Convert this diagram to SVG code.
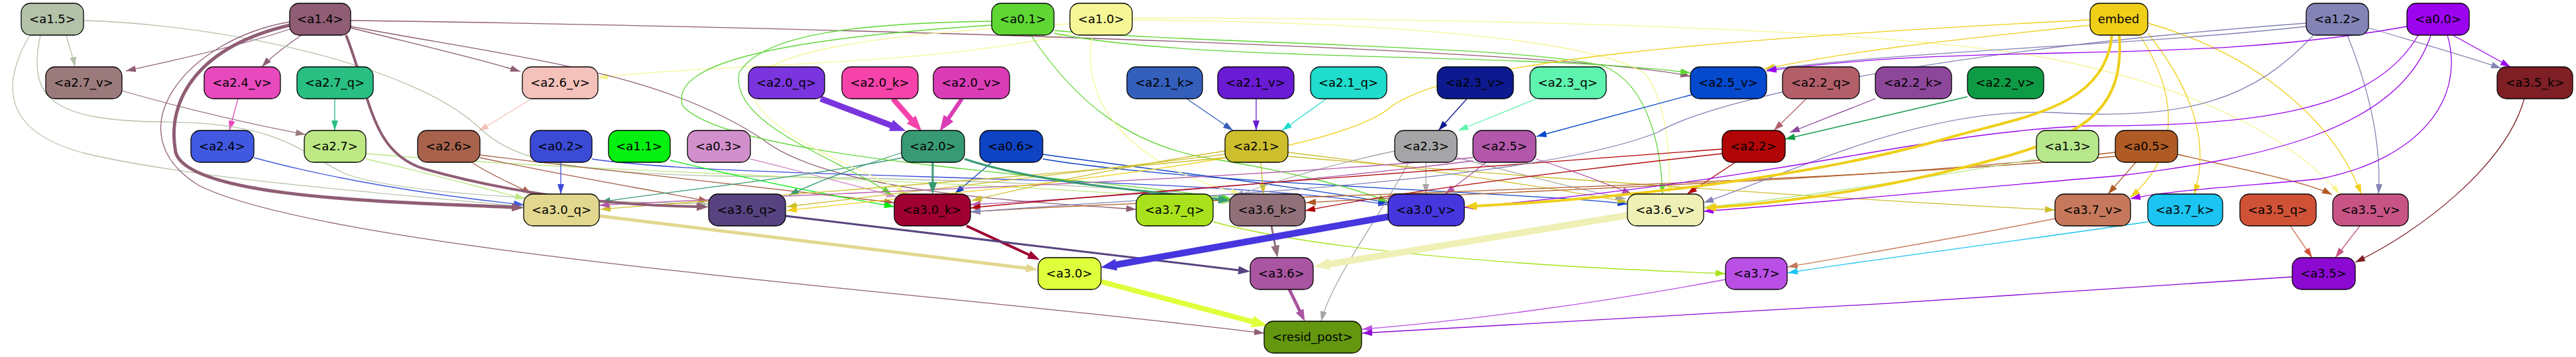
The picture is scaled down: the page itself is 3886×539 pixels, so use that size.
<svg xmlns="http://www.w3.org/2000/svg" width="3886" height="539" viewBox="0 0 3886 539">
<style>
.node rect{stroke:#000;stroke-width:1.3}
.node text{font-family:"DejaVu Sans","Liberation Sans",sans-serif;font-size:18px;text-anchor:middle;fill:#000}
.e{fill:none;stroke-width:1.3}
.m{fill:none}
</style>
<defs>
<marker id="a-a15" viewBox="0 0 15 10" refX="15" refY="5" markerWidth="15" markerHeight="10" markerUnits="userSpaceOnUse" orient="auto"><path d="M0,0L15,5L0,10z" fill="#b3c2a8"/></marker>
<marker id="a-a14" viewBox="0 0 15 10" refX="15" refY="5" markerWidth="15" markerHeight="10" markerUnits="userSpaceOnUse" orient="auto"><path d="M0,0L15,5L0,10z" fill="#8f5d74"/></marker>
<marker id="a-a10" viewBox="0 0 15 10" refX="15" refY="5" markerWidth="15" markerHeight="10" markerUnits="userSpaceOnUse" orient="auto"><path d="M0,0L15,5L0,10z" fill="#f6f696"/></marker>
<marker id="a-a01" viewBox="0 0 15 10" refX="15" refY="5" markerWidth="15" markerHeight="10" markerUnits="userSpaceOnUse" orient="auto"><path d="M0,0L15,5L0,10z" fill="#5fd634"/></marker>
<marker id="a-a00" viewBox="0 0 15 10" refX="15" refY="5" markerWidth="15" markerHeight="10" markerUnits="userSpaceOnUse" orient="auto"><path d="M0,0L15,5L0,10z" fill="#9c04ef"/></marker>
<marker id="a-a12" viewBox="0 0 15 10" refX="15" refY="5" markerWidth="15" markerHeight="10" markerUnits="userSpaceOnUse" orient="auto"><path d="M0,0L15,5L0,10z" fill="#8383b6"/></marker>
<marker id="a-emb" viewBox="0 0 15 10" refX="15" refY="5" markerWidth="15" markerHeight="10" markerUnits="userSpaceOnUse" orient="auto"><path d="M0,0L15,5L0,10z" fill="#efcf18"/></marker>
<marker id="a-a27v" viewBox="0 0 15 10" refX="15" refY="5" markerWidth="15" markerHeight="10" markerUnits="userSpaceOnUse" orient="auto"><path d="M0,0L15,5L0,10z" fill="#9b7a7c"/></marker>
<marker id="a-a24v" viewBox="0 0 15 10" refX="15" refY="5" markerWidth="15" markerHeight="10" markerUnits="userSpaceOnUse" orient="auto"><path d="M0,0L15,5L0,10z" fill="#e849bd"/></marker>
<marker id="a-a27q" viewBox="0 0 15 10" refX="15" refY="5" markerWidth="15" markerHeight="10" markerUnits="userSpaceOnUse" orient="auto"><path d="M0,0L15,5L0,10z" fill="#29bf82"/></marker>
<marker id="a-a26v" viewBox="0 0 15 10" refX="15" refY="5" markerWidth="15" markerHeight="10" markerUnits="userSpaceOnUse" orient="auto"><path d="M0,0L15,5L0,10z" fill="#f4c2ba"/></marker>
<marker id="a-a21k" viewBox="0 0 15 10" refX="15" refY="5" markerWidth="15" markerHeight="10" markerUnits="userSpaceOnUse" orient="auto"><path d="M0,0L15,5L0,10z" fill="#345fbb"/></marker>
<marker id="a-a21v" viewBox="0 0 15 10" refX="15" refY="5" markerWidth="15" markerHeight="10" markerUnits="userSpaceOnUse" orient="auto"><path d="M0,0L15,5L0,10z" fill="#6a1bd4"/></marker>
<marker id="a-a21q" viewBox="0 0 15 10" refX="15" refY="5" markerWidth="15" markerHeight="10" markerUnits="userSpaceOnUse" orient="auto"><path d="M0,0L15,5L0,10z" fill="#1fdccc"/></marker>
<marker id="a-a23v" viewBox="0 0 15 10" refX="15" refY="5" markerWidth="15" markerHeight="10" markerUnits="userSpaceOnUse" orient="auto"><path d="M0,0L15,5L0,10z" fill="#0d1a8f"/></marker>
<marker id="a-a23q" viewBox="0 0 15 10" refX="15" refY="5" markerWidth="15" markerHeight="10" markerUnits="userSpaceOnUse" orient="auto"><path d="M0,0L15,5L0,10z" fill="#5ef3ae"/></marker>
<marker id="a-a25v" viewBox="0 0 15 10" refX="15" refY="5" markerWidth="15" markerHeight="10" markerUnits="userSpaceOnUse" orient="auto"><path d="M0,0L15,5L0,10z" fill="#0549cc"/></marker>
<marker id="a-a22q" viewBox="0 0 15 10" refX="15" refY="5" markerWidth="15" markerHeight="10" markerUnits="userSpaceOnUse" orient="auto"><path d="M0,0L15,5L0,10z" fill="#b35f6a"/></marker>
<marker id="a-a22k" viewBox="0 0 15 10" refX="15" refY="5" markerWidth="15" markerHeight="10" markerUnits="userSpaceOnUse" orient="auto"><path d="M0,0L15,5L0,10z" fill="#8d479a"/></marker>
<marker id="a-a22v" viewBox="0 0 15 10" refX="15" refY="5" markerWidth="15" markerHeight="10" markerUnits="userSpaceOnUse" orient="auto"><path d="M0,0L15,5L0,10z" fill="#0f9b45"/></marker>
<marker id="a-a35k" viewBox="0 0 15 10" refX="15" refY="5" markerWidth="15" markerHeight="10" markerUnits="userSpaceOnUse" orient="auto"><path d="M0,0L15,5L0,10z" fill="#7e1f25"/></marker>
<marker id="a-a24" viewBox="0 0 15 10" refX="15" refY="5" markerWidth="15" markerHeight="10" markerUnits="userSpaceOnUse" orient="auto"><path d="M0,0L15,5L0,10z" fill="#4159e0"/></marker>
<marker id="a-a27" viewBox="0 0 15 10" refX="15" refY="5" markerWidth="15" markerHeight="10" markerUnits="userSpaceOnUse" orient="auto"><path d="M0,0L15,5L0,10z" fill="#bde884"/></marker>
<marker id="a-a26" viewBox="0 0 15 10" refX="15" refY="5" markerWidth="15" markerHeight="10" markerUnits="userSpaceOnUse" orient="auto"><path d="M0,0L15,5L0,10z" fill="#a8624c"/></marker>
<marker id="a-a02" viewBox="0 0 15 10" refX="15" refY="5" markerWidth="15" markerHeight="10" markerUnits="userSpaceOnUse" orient="auto"><path d="M0,0L15,5L0,10z" fill="#3b4bd6"/></marker>
<marker id="a-a11" viewBox="0 0 15 10" refX="15" refY="5" markerWidth="15" markerHeight="10" markerUnits="userSpaceOnUse" orient="auto"><path d="M0,0L15,5L0,10z" fill="#03f010"/></marker>
<marker id="a-a03" viewBox="0 0 15 10" refX="15" refY="5" markerWidth="15" markerHeight="10" markerUnits="userSpaceOnUse" orient="auto"><path d="M0,0L15,5L0,10z" fill="#d190cb"/></marker>
<marker id="a-a20" viewBox="0 0 15 10" refX="15" refY="5" markerWidth="15" markerHeight="10" markerUnits="userSpaceOnUse" orient="auto"><path d="M0,0L15,5L0,10z" fill="#389a74"/></marker>
<marker id="a-a06" viewBox="0 0 15 10" refX="15" refY="5" markerWidth="15" markerHeight="10" markerUnits="userSpaceOnUse" orient="auto"><path d="M0,0L15,5L0,10z" fill="#0e43c3"/></marker>
<marker id="a-a21" viewBox="0 0 15 10" refX="15" refY="5" markerWidth="15" markerHeight="10" markerUnits="userSpaceOnUse" orient="auto"><path d="M0,0L15,5L0,10z" fill="#cdbe2e"/></marker>
<marker id="a-a23" viewBox="0 0 15 10" refX="15" refY="5" markerWidth="15" markerHeight="10" markerUnits="userSpaceOnUse" orient="auto"><path d="M0,0L15,5L0,10z" fill="#a5a5a7"/></marker>
<marker id="a-a25" viewBox="0 0 15 10" refX="15" refY="5" markerWidth="15" markerHeight="10" markerUnits="userSpaceOnUse" orient="auto"><path d="M0,0L15,5L0,10z" fill="#b257aa"/></marker>
<marker id="a-a22" viewBox="0 0 15 10" refX="15" refY="5" markerWidth="15" markerHeight="10" markerUnits="userSpaceOnUse" orient="auto"><path d="M0,0L15,5L0,10z" fill="#b10508"/></marker>
<marker id="a-a13" viewBox="0 0 15 10" refX="15" refY="5" markerWidth="15" markerHeight="10" markerUnits="userSpaceOnUse" orient="auto"><path d="M0,0L15,5L0,10z" fill="#b7e78b"/></marker>
<marker id="a-a05" viewBox="0 0 15 10" refX="15" refY="5" markerWidth="15" markerHeight="10" markerUnits="userSpaceOnUse" orient="auto"><path d="M0,0L15,5L0,10z" fill="#b05b25"/></marker>
<marker id="a-a37q" viewBox="0 0 15 10" refX="15" refY="5" markerWidth="15" markerHeight="10" markerUnits="userSpaceOnUse" orient="auto"><path d="M0,0L15,5L0,10z" fill="#a9e21c"/></marker>
<marker id="a-a37v" viewBox="0 0 15 10" refX="15" refY="5" markerWidth="15" markerHeight="10" markerUnits="userSpaceOnUse" orient="auto"><path d="M0,0L15,5L0,10z" fill="#c5785b"/></marker>
<marker id="a-a37k" viewBox="0 0 15 10" refX="15" refY="5" markerWidth="15" markerHeight="10" markerUnits="userSpaceOnUse" orient="auto"><path d="M0,0L15,5L0,10z" fill="#1bc4f1"/></marker>
<marker id="a-a35q" viewBox="0 0 15 10" refX="15" refY="5" markerWidth="15" markerHeight="10" markerUnits="userSpaceOnUse" orient="auto"><path d="M0,0L15,5L0,10z" fill="#d05236"/></marker>
<marker id="a-a35v" viewBox="0 0 15 10" refX="15" refY="5" markerWidth="15" markerHeight="10" markerUnits="userSpaceOnUse" orient="auto"><path d="M0,0L15,5L0,10z" fill="#c85485"/></marker>
<marker id="a-a37" viewBox="0 0 15 10" refX="15" refY="5" markerWidth="15" markerHeight="10" markerUnits="userSpaceOnUse" orient="auto"><path d="M0,0L15,5L0,10z" fill="#b94fe4"/></marker>
<marker id="a-a35" viewBox="0 0 15 10" refX="15" refY="5" markerWidth="15" markerHeight="10" markerUnits="userSpaceOnUse" orient="auto"><path d="M0,0L15,5L0,10z" fill="#8c09d1"/></marker>
<marker id="b-a14" viewBox="0 0 18 13" refX="1" refY="6.5" markerWidth="18" markerHeight="13" markerUnits="userSpaceOnUse" orient="auto"><path d="M0,0L18,6.5L0,13z" fill="#8f5d74"/></marker>
<marker id="b-a30q" viewBox="0 0 18 13" refX="1" refY="6.5" markerWidth="18" markerHeight="13" markerUnits="userSpaceOnUse" orient="auto"><path d="M0,0L18,6.5L0,13z" fill="#e2d78f"/></marker>
<marker id="b-a30k" viewBox="0 0 18 13" refX="1" refY="6.5" markerWidth="18" markerHeight="13" markerUnits="userSpaceOnUse" orient="auto"><path d="M0,0L18,6.5L0,13z" fill="#9f0031"/></marker>
<marker id="b-a36" viewBox="0 0 18 13" refX="1" refY="6.5" markerWidth="18" markerHeight="13" markerUnits="userSpaceOnUse" orient="auto"><path d="M0,0L18,6.5L0,13z" fill="#a955a1"/></marker>
<marker id="b-emb" viewBox="0 0 18 13" refX="1" refY="6.5" markerWidth="18" markerHeight="13" markerUnits="userSpaceOnUse" orient="auto"><path d="M0,0L18,6.5L0,13z" fill="#efcf18"/></marker>
<marker id="b-a20" viewBox="0 0 18 13" refX="1" refY="6.5" markerWidth="18" markerHeight="13" markerUnits="userSpaceOnUse" orient="auto"><path d="M0,0L18,6.5L0,13z" fill="#389a74"/></marker>
<marker id="b-a36q" viewBox="0 0 18 13" refX="1" refY="6.5" markerWidth="18" markerHeight="13" markerUnits="userSpaceOnUse" orient="auto"><path d="M0,0L18,6.5L0,13z" fill="#56437f"/></marker>
<marker id="b-a36k" viewBox="0 0 18 13" refX="1" refY="6.5" markerWidth="18" markerHeight="13" markerUnits="userSpaceOnUse" orient="auto"><path d="M0,0L18,6.5L0,13z" fill="#917079"/></marker>
<marker id="c-a20q" viewBox="0 0 24 18" refX="2" refY="9" markerWidth="24" markerHeight="18" markerUnits="userSpaceOnUse" orient="auto"><path d="M0,0L24,9L0,18z" fill="#7a35de"/></marker>
<marker id="c-a20k" viewBox="0 0 24 18" refX="2" refY="9" markerWidth="24" markerHeight="18" markerUnits="userSpaceOnUse" orient="auto"><path d="M0,0L24,9L0,18z" fill="#f543aa"/></marker>
<marker id="c-a20v" viewBox="0 0 24 18" refX="2" refY="9" markerWidth="24" markerHeight="18" markerUnits="userSpaceOnUse" orient="auto"><path d="M0,0L24,9L0,18z" fill="#da3cb6"/></marker>
<marker id="c-a30v" viewBox="0 0 24 18" refX="2" refY="9" markerWidth="24" markerHeight="18" markerUnits="userSpaceOnUse" orient="auto"><path d="M0,0L24,9L0,18z" fill="#4636dd"/></marker>
<marker id="c-a36v" viewBox="0 0 24 18" refX="2" refY="9" markerWidth="24" markerHeight="18" markerUnits="userSpaceOnUse" orient="auto"><path d="M0,0L24,9L0,18z" fill="#eef0b5"/></marker>
<marker id="c-a30" viewBox="0 0 24 18" refX="2" refY="9" markerWidth="24" markerHeight="18" markerUnits="userSpaceOnUse" orient="auto"><path d="M0,0L24,9L0,18z" fill="#deff3c"/></marker>
</defs>
<g id="connectors">
<path class="e" stroke="#b3c2a8" marker-end="url(#a-a15)" d="M100,53 C104,70 110,85 113,101"/>
<path class="e" stroke="#8f5d74" marker-end="url(#a-a14)" d="M437,44 C360,70 260,92 190,107"/>
<path class="e" stroke="#8f5d74" marker-end="url(#a-a14)" d="M455,53 C430,70 410,85 395,101"/>
<path class="e" stroke="#8f5d74" marker-end="url(#a-a14)" d="M529,42 C620,65 720,88 785,108"/>
<path class="e" stroke="#f6f696" marker-end="url(#a-a10)" d="M1618,50 C1400,100 1100,95 902,117"/>
<path class="e" stroke="#e849bd" marker-end="url(#a-a24v)" d="M359,149 L346,197"/>
<path class="e" stroke="#29bf82" marker-end="url(#a-a27q)" d="M505,149 L505,197"/>
<path class="e" stroke="#9b7a7c" marker-end="url(#a-a27v)" d="M184,137 C280,165 390,190 461,203"/>
<path class="e" stroke="#f4c2ba" marker-end="url(#a-a26v)" d="M802,149 L722,198"/>
<path class="e" stroke="#b3c2a8" marker-end="url(#a-a15)" d="M45,53 C0,130 5,200 130,232 C300,272 600,293 790,312"/>
<path class="e" stroke="#b3c2a8" marker-end="url(#a-a15)" d="M61,53 C40,150 80,183 250,184 C420,185 450,228 520,262 C620,300 950,305 1069,308"/>
<path class="e" stroke="#b3c2a8" marker-end="url(#a-a15)" d="M126,31 C350,38 620,100 720,190 C770,240 850,262 1100,266 C1500,270 1750,285 1857,302"/>
<path class="e" stroke="#8f5d74" marker-end="url(#a-a14)" d="M437,33 C280,60 170,200 300,280 C500,380 1400,440 1907,503"/>
<path class="e" stroke="#8f5d74" marker-end="url(#a-a14)" d="M529,31 C900,35 2300,65 2550,115"/>
<path class="e" stroke="#8f5d74" marker-end="url(#a-a14)" d="M529,40 C800,90 1000,110 1150,210 C1250,290 1550,305 1714,316"/>
<path class="e" stroke="#4159e0" marker-end="url(#a-a24)" d="M383,238 C500,270 650,295 790,309"/>
<path class="e" stroke="#bde884" marker-end="url(#a-a27)" d="M552,240 C650,262 720,282 792,300"/>
<path class="e" stroke="#bde884" marker-end="url(#a-a27)" d="M552,232 C900,262 1500,272 1857,305"/>
<path class="e" stroke="#a8624c" marker-end="url(#a-a26)" d="M712,245 C740,265 780,280 802,293"/>
<path class="e" stroke="#a8624c" marker-end="url(#a-a26)" d="M724,238 C850,265 1000,290 1069,304"/>
<path class="e" stroke="#a8624c" marker-end="url(#a-a26)" d="M724,234 C950,262 1200,288 1349,306"/>
<path class="e" stroke="#3b4bd6" marker-end="url(#a-a02)" d="M846,245 L846,293"/>
<path class="e" stroke="#3b4bd6" marker-end="url(#a-a02)" d="M893,240 C1100,272 1800,262 2094,309"/>
<path class="e" stroke="#03f010" marker-end="url(#a-a11)" d="M1011,242 C1150,275 1280,300 1349,312"/>
<path class="e" stroke="#d190cb" marker-end="url(#a-a03)" d="M1132,240 C1220,262 1300,283 1352,297"/>
<path class="e" stroke="#389a74" marker-end="url(#a-a20)" d="M1362,230 C1300,250 1230,275 1190,295"/>
<path class="e" stroke="#389a74" marker-end="url(#a-a20)" d="M1362,238 C1200,270 1000,290 906,305"/>
<path class="e" stroke="#0e43c3" marker-end="url(#a-a06)" d="M1496,245 L1440,293"/>
<path class="e" stroke="#0e43c3" marker-end="url(#a-a06)" d="M1573,233 C1750,258 1950,280 2094,306"/>
<path class="e" stroke="#0e43c3" marker-end="url(#a-a06)" d="M1573,240 C1800,278 2300,290 2455,308"/>
<path class="e" stroke="#5fd634" marker-end="url(#a-a01)" d="M1496,32 C1300,35 1150,50 1115,110 C1100,190 1270,240 1345,294"/>
<path class="e" stroke="#5fd634" marker-end="url(#a-a01)" d="M1496,38 C1150,60 1010,100 1030,160 C1100,240 1600,262 1857,300"/>
<path class="e" stroke="#5fd634" marker-end="url(#a-a01)" d="M1555,53 C1620,150 1700,220 1830,240 C1950,260 2050,285 2094,305"/>
<path class="e" stroke="#5fd634" marker-end="url(#a-a01)" d="M1590,46 C1800,66 2300,68 2420,100 C2490,130 2506,230 2508,293"/>
<path class="e" stroke="#5fd634" marker-end="url(#a-a01)" d="M1590,50 C1800,95 2300,78 2550,110"/>
<path class="e" stroke="#f6f696" marker-end="url(#a-a10)" d="M1614,36 C1300,52 1150,80 1132,130 C1140,205 1310,255 1367,293"/>
<path class="e" stroke="#f6f696" marker-end="url(#a-a10)" d="M1708,30 C2100,33 2400,60 2480,110 C2515,150 2520,240 2518,293"/>
<path class="e" stroke="#f6f696" marker-end="url(#a-a10)" d="M1708,27 C2400,28 2900,50 3100,90 C3300,130 3450,200 3530,293"/>
<path class="e" stroke="#f6f696" marker-end="url(#a-a10)" d="M1648,53 C1628,150 1700,250 1872,293"/>
<path class="e" stroke="#345fbb" marker-end="url(#a-a21k)" d="M1790,149 L1860,197"/>
<path class="e" stroke="#6a1bd4" marker-end="url(#a-a21v)" d="M1895,149 L1895,197"/>
<path class="e" stroke="#1fdccc" marker-end="url(#a-a21q)" d="M2001,149 L1934,197"/>
<path class="e" stroke="#cdbe2e" marker-end="url(#a-a21)" d="M1902,245 L1906,293"/>
<path class="e" stroke="#cdbe2e" marker-end="url(#a-a21)" d="M1848,228 C1700,250 1550,282 1466,303"/>
<path class="e" stroke="#cdbe2e" marker-end="url(#a-a21)" d="M1848,233 C1600,262 1350,292 1187,312"/>
<path class="e" stroke="#cdbe2e" marker-end="url(#a-a21)" d="M1848,238 C1500,272 1100,300 906,316"/>
<path class="e" stroke="#cdbe2e" marker-end="url(#a-a21)" d="M1943,230 C2150,255 2350,285 2455,305"/>
<path class="e" stroke="#cdbe2e" marker-end="url(#a-a21)" d="M1943,236 C2300,268 2800,302 3100,317"/>
<path class="e" stroke="#0d1a8f" marker-end="url(#a-a23v)" d="M2213,149 L2170,197"/>
<path class="e" stroke="#5ef3ae" marker-end="url(#a-a23q)" d="M2318,149 L2200,197"/>
<path class="e" stroke="#0549cc" marker-end="url(#a-a25v)" d="M2552,143 L2318,206"/>
<path class="e" stroke="#a5a5a7" marker-end="url(#a-a23)" d="M2151,245 L2151,293"/>
<path class="e" stroke="#a5a5a7" marker-end="url(#a-a23)" d="M2104,228 C2000,250 1900,280 1862,298"/>
<path class="e" stroke="#a5a5a7" marker-end="url(#a-a23)" d="M2198,238 C2300,265 2400,290 2452,300"/>
<path class="e" stroke="#a5a5a7" marker-end="url(#a-a23)" d="M2125,245 C2080,330 2010,420 1993,485"/>
<path class="e" stroke="#b257aa" marker-end="url(#a-a25)" d="M2242,245 L2180,293"/>
<path class="e" stroke="#b257aa" marker-end="url(#a-a25)" d="M2317,240 C2380,260 2430,280 2462,293"/>
<path class="e" stroke="#b257aa" marker-end="url(#a-a25)" d="M2222,238 C1800,276 1200,292 904,310"/>
<path class="e" stroke="#b257aa" marker-end="url(#a-a25)" d="M2222,243 C1900,282 1600,302 1464,309"/>
<path class="e" stroke="#b35f6a" marker-end="url(#a-a22q)" d="M2725,149 L2676,197"/>
<path class="e" stroke="#8d479a" marker-end="url(#a-a22k)" d="M2829,149 L2700,200"/>
<path class="e" stroke="#0f9b45" marker-end="url(#a-a22v)" d="M2968,146 L2693,210"/>
<path class="e" stroke="#b10508" marker-end="url(#a-a22)" d="M2618,245 L2545,293"/>
<path class="e" stroke="#b10508" marker-end="url(#a-a22)" d="M2598,225 C2200,255 1700,290 1464,314"/>
<path class="e" stroke="#b10508" marker-end="url(#a-a22)" d="M2598,232 C2300,265 2100,292 1969,318"/>
<path class="e" stroke="#b05b25" marker-end="url(#a-a05)" d="M3191,230 C2800,275 2300,286 1970,306"/>
<path class="e" stroke="#b05b25" marker-end="url(#a-a05)" d="M3191,236 C2700,282 1800,297 1464,320"/>
<path class="e" stroke="#b05b25" marker-end="url(#a-a05)" d="M3222,245 L3180,293"/>
<path class="e" stroke="#b05b25" marker-end="url(#a-a05)" d="M3285,233 C3380,255 3480,275 3518,294"/>
<path class="e" stroke="#b7e78b" marker-end="url(#a-a13)" d="M3072,240 C2900,270 2700,300 2571,313"/>
<path class="e" stroke="#efcf18" marker-end="url(#a-emb)" d="M3240,50 C3320,150 3330,230 3310,293"/>
<path class="e" stroke="#efcf18" marker-end="url(#a-emb)" d="M3240,35 C3400,80 3520,180 3562,293"/>
<path class="e" stroke="#efcf18" marker-end="url(#a-emb)" d="M3228,53 C3290,150 3285,235 3214,298"/>
<path class="e" stroke="#efcf18" marker-end="url(#a-emb)" d="M3153,38 C2950,60 2800,75 2662,104"/>
<path class="e" stroke="#efcf18" marker-end="url(#a-emb)" d="M3153,30 C2600,58 2200,90 2100,160 C2000,250 1400,292 1187,318"/>
<path class="e" stroke="#8383b6" marker-end="url(#a-a12)" d="M3573,42 C3650,65 3720,85 3773,103"/>
<path class="e" stroke="#8383b6" marker-end="url(#a-a12)" d="M3541,53 C3580,150 3592,230 3588,293"/>
<path class="e" stroke="#8383b6" marker-end="url(#a-a12)" d="M3479,35 C3000,70 2600,140 2500,200 C2300,280 1700,300 1464,320"/>
<path class="e" stroke="#8383b6" marker-end="url(#a-a12)" d="M3490,53 C3400,150 3300,182 3100,170 C2900,160 2700,262 2570,306"/>
<path class="e" stroke="#8383b6" marker-end="url(#a-a12)" d="M3479,40 C3200,70 2900,75 2665,105"/>
<path class="e" stroke="#9c04ef" marker-end="url(#a-a00)" d="M3700,53 L3787,101"/>
<path class="e" stroke="#9c04ef" marker-end="url(#a-a00)" d="M3631,40 C3300,100 3000,62 2665,107"/>
<path class="e" stroke="#9c04ef" marker-end="url(#a-a00)" d="M3648,53 C3580,170 3400,190 3150,190 C2900,200 2700,270 2209,313"/>
<path class="e" stroke="#9c04ef" marker-end="url(#a-a00)" d="M3667,53 C3620,200 3400,240 3200,265 C2900,290 2700,310 2570,319"/>
<path class="e" stroke="#9c04ef" marker-end="url(#a-a00)" d="M3692,53 C3720,150 3650,240 3500,270 C3400,280 3280,286 3214,300"/>
<path class="e" stroke="#7e1f25" marker-end="url(#a-a35k)" d="M3808,149 C3780,250 3650,350 3553,396"/>
<path class="e" stroke="#d05236" marker-end="url(#a-a35q)" d="M3455,341 L3488,389"/>
<path class="e" stroke="#c85485" marker-end="url(#a-a35v)" d="M3560,341 L3523,389"/>
<path class="e" stroke="#c5785b" marker-end="url(#a-a37v)" d="M3100,330 C2950,360 2800,385 2697,403"/>
<path class="e" stroke="#1bc4f1" marker-end="url(#a-a37k)" d="M3240,335 C3000,370 2800,395 2697,412"/>
<path class="e" stroke="#a9e21c" marker-end="url(#a-a37q)" d="M1830,335 C2000,380 2300,402 2603,413"/>
<path class="e" stroke="#b94fe4" marker-end="url(#a-a37)" d="M2603,422 C2400,460 2200,485 2055,497"/>
<path class="e" stroke="#8c09d1" marker-end="url(#a-a35)" d="M3458,418 C3000,450 2500,480 2055,503"/>
<path class="m" stroke="#8f5d74" stroke-width="5" marker-end="url(#b-a14)" d="M437,38 C300,70 250,150 265,230 C285,300 600,305 773,313"/>
<path class="m" stroke="#8f5d74" stroke-width="4" marker-end="url(#b-a14)" d="M522,53 C560,150 560,230 640,255 C800,300 950,310 1052,312"/>
<path class="m" stroke="#e2d78f" stroke-width="5" marker-end="url(#b-a30q)" d="M904,326 L1549,405"/>
<path class="m" stroke="#9f0031" stroke-width="4" marker-end="url(#b-a30k)" d="M1458,341 L1553,385"/>
<path class="m" stroke="#a955a1" stroke-width="5" marker-end="url(#b-a36)" d="M1945,437 L1961,470"/>
<path class="m" stroke="#efcf18" stroke-width="4" marker-end="url(#b-emb)" d="M3186,53 C3175,160 3060,175 2950,205 C2750,265 2450,300 2227,311"/>
<path class="m" stroke="#efcf18" stroke-width="4" marker-end="url(#b-emb)" d="M3197,53 C3205,160 3150,200 3030,235 C2850,285 2700,305 2588,313"/>
<path class="m" stroke="#389a74" stroke-width="3" marker-end="url(#b-a20)" d="M1407,245 L1407,276"/>
<path class="m" stroke="#389a74" stroke-width="3" marker-end="url(#b-a20)" d="M1455,240 C1560,275 1700,285 1839,301"/>
<path class="m" stroke="#56437f" stroke-width="3" marker-end="url(#b-a36q)" d="M1185,326 L1869,408"/>
<path class="m" stroke="#917079" stroke-width="3" marker-end="url(#b-a36k)" d="M1918,341 L1924,372"/>
<path class="m" stroke="#7a35de" stroke-width="9" marker-end="url(#c-a20q)" d="M1238,149 L1346,190"/>
<path class="m" stroke="#f543aa" stroke-width="8" marker-end="url(#c-a20k)" d="M1347,149 L1376,182"/>
<path class="m" stroke="#da3cb6" stroke-width="6" marker-end="url(#c-a20v)" d="M1451,149 L1430,180"/>
<path class="m" stroke="#4636dd" stroke-width="10" marker-end="url(#c-a30v)" d="M2096,327 L1682,400"/>
<path class="m" stroke="#eef0b5" stroke-width="10" marker-end="url(#c-a36v)" d="M2456,325 L2004,399"/>
<path class="m" stroke="#deff3c" stroke-width="8" marker-end="url(#c-a30)" d="M1660,425 L1891,486"/>
</g>
<g id="n-a1-5" class="node"><rect x="32" y="5" width="94" height="48" rx="14" fill="#b3c2a8"/><text x="79" y="35">&lt;a1.5&gt;</text></g>
<g id="n-a1-4" class="node"><rect x="437" y="5" width="92" height="48" rx="14" fill="#8f5d74"/><text x="483" y="35">&lt;a1.4&gt;</text></g>
<g id="n-a0-1" class="node"><rect x="1496" y="5" width="94" height="48" rx="14" fill="#5fd634"/><text x="1543" y="35">&lt;a0.1&gt;</text></g>
<g id="n-a1-0" class="node"><rect x="1614" y="5" width="94" height="48" rx="14" fill="#f6f696"/><text x="1661" y="35">&lt;a1.0&gt;</text></g>
<g id="n-embed" class="node"><rect x="3153" y="5" width="87" height="48" rx="14" fill="#efcf18"/><text x="3196" y="35">embed</text></g>
<g id="n-a1-2" class="node"><rect x="3479" y="5" width="94" height="48" rx="14" fill="#8383b6"/><text x="3526" y="35">&lt;a1.2&gt;</text></g>
<g id="n-a0-0" class="node"><rect x="3631" y="5" width="94" height="48" rx="14" fill="#9c04ef"/><text x="3678" y="35">&lt;a0.0&gt;</text></g>
<g id="n-a2-7_v" class="node"><rect x="69" y="101" width="115" height="48" rx="14" fill="#9b7a7c"/><text x="126" y="131">&lt;a2.7_v&gt;</text></g>
<g id="n-a2-4_v" class="node"><rect x="308" y="101" width="115" height="48" rx="14" fill="#e849bd"/><text x="365" y="131">&lt;a2.4_v&gt;</text></g>
<g id="n-a2-7_q" class="node"><rect x="448" y="101" width="115" height="48" rx="14" fill="#29bf82"/><text x="505" y="131">&lt;a2.7_q&gt;</text></g>
<g id="n-a2-6_v" class="node"><rect x="788" y="101" width="114" height="48" rx="14" fill="#f4c2ba"/><text x="845" y="131">&lt;a2.6_v&gt;</text></g>
<g id="n-a2-0_q" class="node"><rect x="1129" y="101" width="115" height="48" rx="14" fill="#7a35de"/><text x="1186" y="131">&lt;a2.0_q&gt;</text></g>
<g id="n-a2-0_k" class="node"><rect x="1270" y="101" width="115" height="48" rx="14" fill="#f543aa"/><text x="1327" y="131">&lt;a2.0_k&gt;</text></g>
<g id="n-a2-0_v" class="node"><rect x="1408" y="101" width="115" height="48" rx="14" fill="#da3cb6"/><text x="1465" y="131">&lt;a2.0_v&gt;</text></g>
<g id="n-a2-1_k" class="node"><rect x="1700" y="101" width="114" height="48" rx="14" fill="#345fbb"/><text x="1757" y="131">&lt;a2.1_k&gt;</text></g>
<g id="n-a2-1_v" class="node"><rect x="1837" y="101" width="115" height="48" rx="14" fill="#6a1bd4"/><text x="1894" y="131">&lt;a2.1_v&gt;</text></g>
<g id="n-a2-1_q" class="node"><rect x="1977" y="101" width="115" height="48" rx="14" fill="#1fdccc"/><text x="2034" y="131">&lt;a2.1_q&gt;</text></g>
<g id="n-a2-3_v" class="node"><rect x="2168" y="101" width="115" height="48" rx="14" fill="#0d1a8f"/><text x="2225" y="131">&lt;a2.3_v&gt;</text></g>
<g id="n-a2-3_q" class="node"><rect x="2308" y="101" width="115" height="48" rx="14" fill="#5ef3ae"/><text x="2365" y="131">&lt;a2.3_q&gt;</text></g>
<g id="n-a2-5_v" class="node"><rect x="2550" y="101" width="115" height="48" rx="14" fill="#0549cc"/><text x="2607" y="131">&lt;a2.5_v&gt;</text></g>
<g id="n-a2-2_q" class="node"><rect x="2689" y="101" width="116" height="48" rx="14" fill="#b35f6a"/><text x="2747" y="131">&lt;a2.2_q&gt;</text></g>
<g id="n-a2-2_k" class="node"><rect x="2829" y="101" width="115" height="48" rx="14" fill="#8d479a"/><text x="2886" y="131">&lt;a2.2_k&gt;</text></g>
<g id="n-a2-2_v" class="node"><rect x="2968" y="101" width="115" height="48" rx="14" fill="#0f9b45"/><text x="3025" y="131">&lt;a2.2_v&gt;</text></g>
<g id="n-a3-5_k" class="node"><rect x="3767" y="101" width="114" height="48" rx="14" fill="#7e1f25"/><text x="3824" y="131">&lt;a3.5_k&gt;</text></g>
<g id="n-a2-4" class="node"><rect x="288" y="197" width="95" height="48" rx="14" fill="#4159e0"/><text x="335" y="227">&lt;a2.4&gt;</text></g>
<g id="n-a2-7" class="node"><rect x="459" y="197" width="93" height="48" rx="14" fill="#bde884"/><text x="505" y="227">&lt;a2.7&gt;</text></g>
<g id="n-a2-6" class="node"><rect x="630" y="197" width="94" height="48" rx="14" fill="#a8624c"/><text x="677" y="227">&lt;a2.6&gt;</text></g>
<g id="n-a0-2" class="node"><rect x="800" y="197" width="93" height="48" rx="14" fill="#3b4bd6"/><text x="846" y="227">&lt;a0.2&gt;</text></g>
<g id="n-a1-1" class="node"><rect x="918" y="197" width="93" height="48" rx="14" fill="#03f010"/><text x="964" y="227">&lt;a1.1&gt;</text></g>
<g id="n-a0-3" class="node"><rect x="1037" y="197" width="95" height="48" rx="14" fill="#d190cb"/><text x="1084" y="227">&lt;a0.3&gt;</text></g>
<g id="n-a2-0" class="node"><rect x="1360" y="197" width="95" height="48" rx="14" fill="#389a74"/><text x="1407" y="227">&lt;a2.0&gt;</text></g>
<g id="n-a0-6" class="node"><rect x="1478" y="197" width="95" height="48" rx="14" fill="#0e43c3"/><text x="1525" y="227">&lt;a0.6&gt;</text></g>
<g id="n-a2-1" class="node"><rect x="1848" y="197" width="95" height="48" rx="14" fill="#cdbe2e"/><text x="1895" y="227">&lt;a2.1&gt;</text></g>
<g id="n-a2-3" class="node"><rect x="2104" y="197" width="94" height="48" rx="14" fill="#a5a5a7"/><text x="2151" y="227">&lt;a2.3&gt;</text></g>
<g id="n-a2-5" class="node"><rect x="2222" y="197" width="95" height="48" rx="14" fill="#b257aa"/><text x="2269" y="227">&lt;a2.5&gt;</text></g>
<g id="n-a2-2" class="node"><rect x="2598" y="197" width="95" height="48" rx="14" fill="#b10508"/><text x="2645" y="227">&lt;a2.2&gt;</text></g>
<g id="n-a1-3" class="node"><rect x="3072" y="197" width="94" height="48" rx="14" fill="#b7e78b"/><text x="3119" y="227">&lt;a1.3&gt;</text></g>
<g id="n-a0-5" class="node"><rect x="3191" y="197" width="94" height="48" rx="14" fill="#b05b25"/><text x="3238" y="227">&lt;a0.5&gt;</text></g>
<g id="n-a3-0_q" class="node"><rect x="790" y="293" width="114" height="48" rx="14" fill="#e2d78f"/><text x="847" y="323">&lt;a3.0_q&gt;</text></g>
<g id="n-a3-6_q" class="node"><rect x="1069" y="293" width="116" height="48" rx="14" fill="#56437f"/><text x="1127" y="323">&lt;a3.6_q&gt;</text></g>
<g id="n-a3-0_k" class="node"><rect x="1349" y="293" width="115" height="48" rx="14" fill="#9f0031"/><text x="1406" y="323">&lt;a3.0_k&gt;</text></g>
<g id="n-a3-7_q" class="node"><rect x="1714" y="293" width="116" height="48" rx="14" fill="#a9e21c"/><text x="1772" y="323">&lt;a3.7_q&gt;</text></g>
<g id="n-a3-6_k" class="node"><rect x="1855" y="293" width="114" height="48" rx="14" fill="#917079"/><text x="1912" y="323">&lt;a3.6_k&gt;</text></g>
<g id="n-a3-0_v" class="node"><rect x="2094" y="293" width="115" height="48" rx="14" fill="#4636dd"/><text x="2151" y="323">&lt;a3.0_v&gt;</text></g>
<g id="n-a3-6_v" class="node"><rect x="2455" y="293" width="115" height="48" rx="14" fill="#eef0b5"/><text x="2512" y="323">&lt;a3.6_v&gt;</text></g>
<g id="n-a3-7_v" class="node"><rect x="3100" y="293" width="114" height="48" rx="14" fill="#c5785b"/><text x="3157" y="323">&lt;a3.7_v&gt;</text></g>
<g id="n-a3-7_k" class="node"><rect x="3240" y="293" width="113" height="48" rx="14" fill="#1bc4f1"/><text x="3296" y="323">&lt;a3.7_k&gt;</text></g>
<g id="n-a3-5_q" class="node"><rect x="3379" y="293" width="115" height="48" rx="14" fill="#d05236"/><text x="3436" y="323">&lt;a3.5_q&gt;</text></g>
<g id="n-a3-5_v" class="node"><rect x="3519" y="293" width="114" height="48" rx="14" fill="#c85485"/><text x="3576" y="323">&lt;a3.5_v&gt;</text></g>
<g id="n-a3-0" class="node"><rect x="1566" y="389" width="95" height="48" rx="14" fill="#deff3c"/><text x="1613" y="419">&lt;a3.0&gt;</text></g>
<g id="n-a3-6" class="node"><rect x="1886" y="389" width="95" height="48" rx="14" fill="#a955a1"/><text x="1933" y="419">&lt;a3.6&gt;</text></g>
<g id="n-a3-7" class="node"><rect x="2603" y="389" width="93" height="48" rx="14" fill="#b94fe4"/><text x="2650" y="419">&lt;a3.7&gt;</text></g>
<g id="n-a3-5" class="node"><rect x="3458" y="389" width="95" height="48" rx="14" fill="#8c09d1"/><text x="3505" y="419">&lt;a3.5&gt;</text></g>
<g id="n-resid_post" class="node"><rect x="1907" y="485" width="147" height="48" rx="14" fill="#64970f"/><text x="1980" y="515">&lt;resid_post&gt;</text></g>
</svg>
